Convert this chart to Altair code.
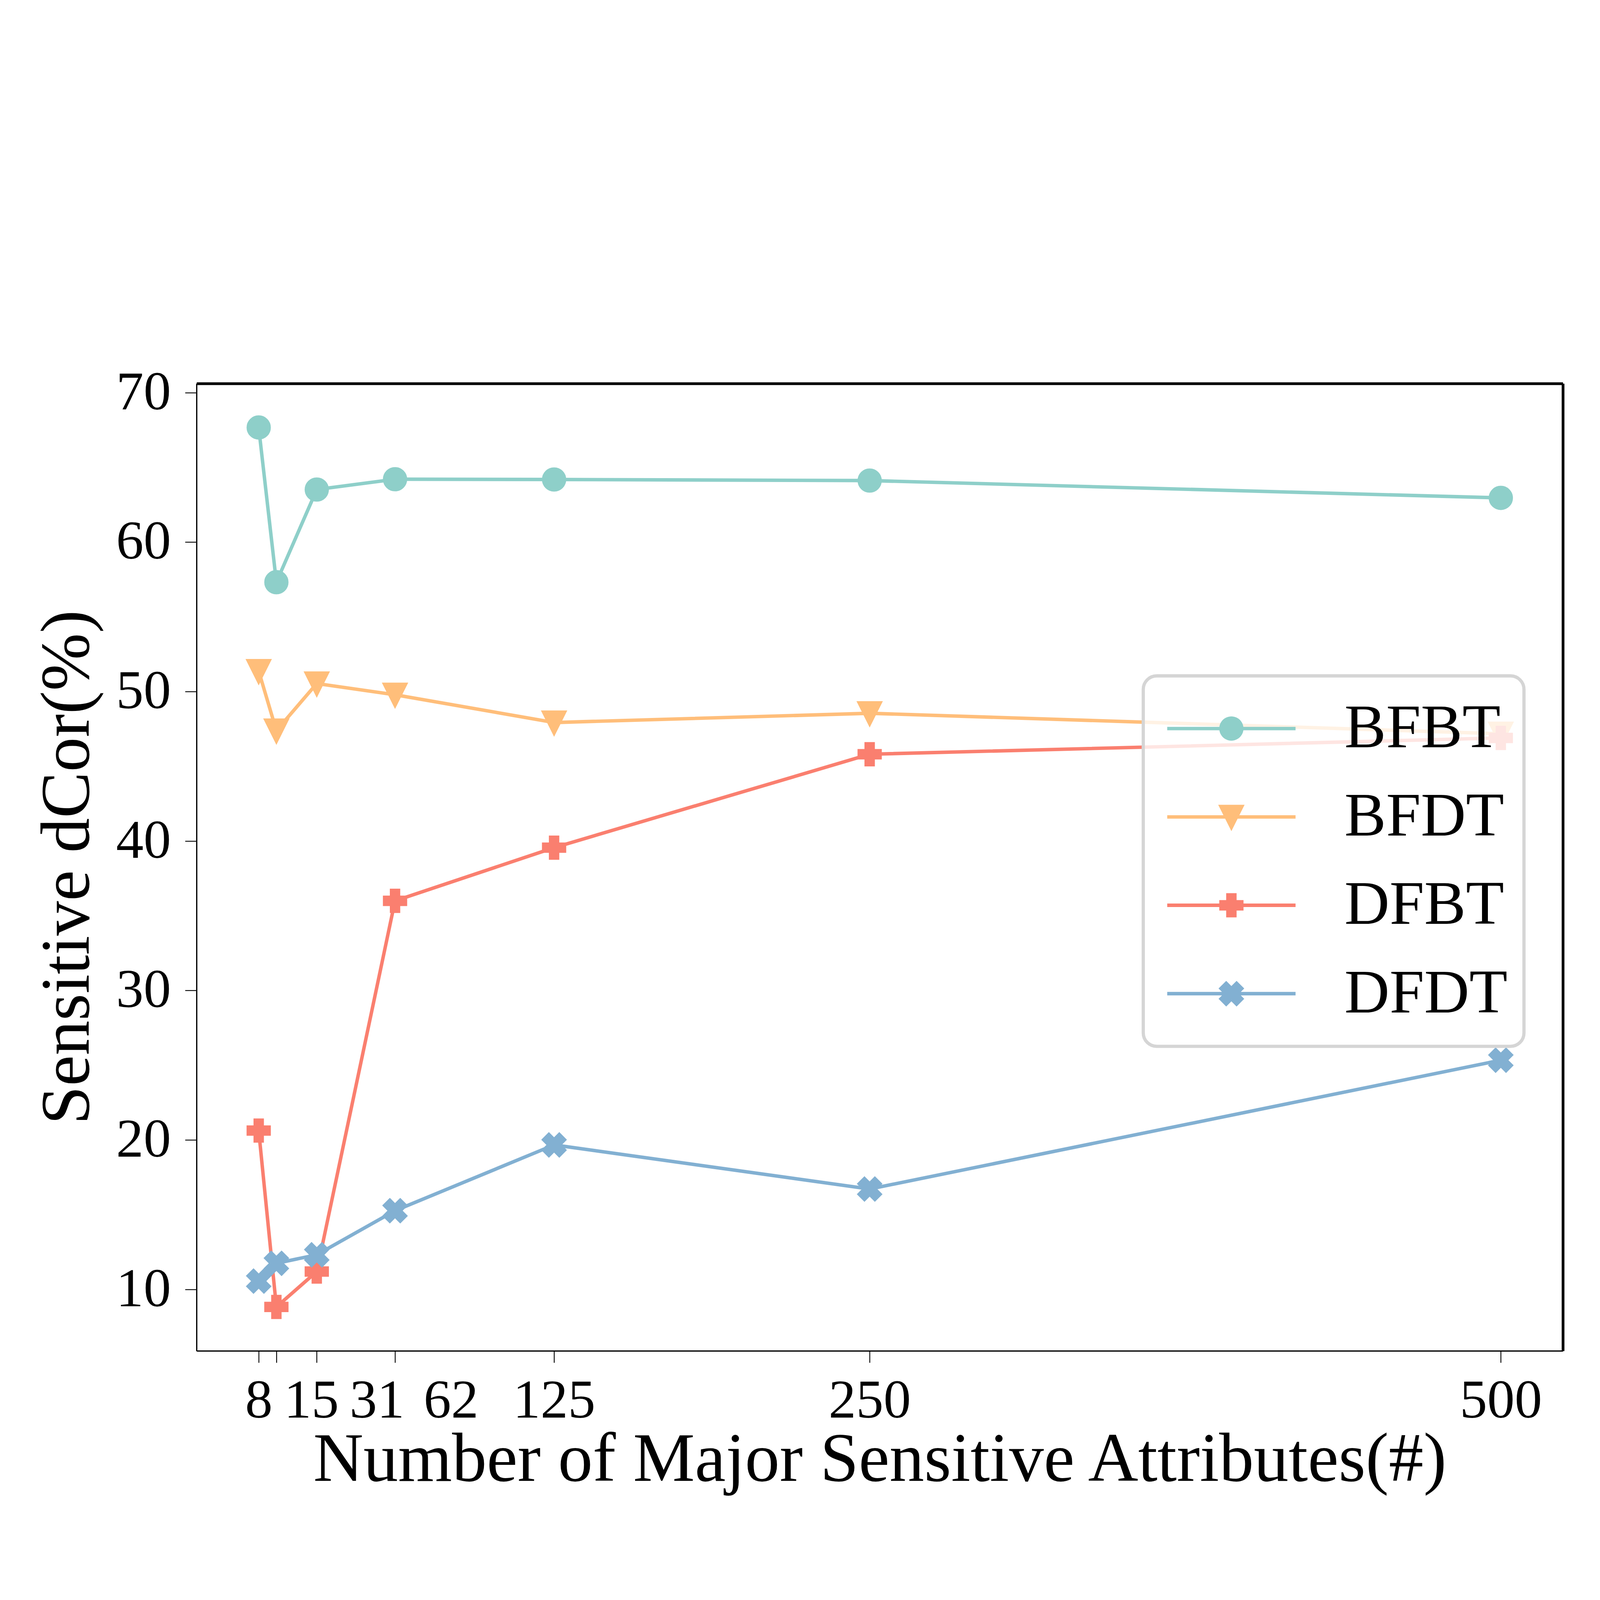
import math
import altair as alt
import pandas as pd

# ---- data ----
x_vals = [8, 15, 31, 62, 125, 250, 500]
series_names = ["BFBT", "BFDT", "DFBT", "DFDT"]
bfbt = [67.67, 57.32, 63.52, 64.21, 64.19, 64.12, 62.96]
bfdt = [51.37, 47.39, 50.54, 49.79, 47.93, 48.55, 47.18]
dfbt = [20.63, 8.83, 11.20, 36.00, 39.56, 45.81, 46.90]
dfdt = [10.56, 11.75, 12.32, 15.27, 19.67, 16.72, 25.34]
colors = ["#8ECFC9", "#FFBE7A", "#FA7F6F", "#82B0D2"]
x_ticks = [8, 15, 31, 62, 125, 250, 500]
y_ticks = [10, 20, 30, 40, 50, 60, 70]
x_title = "Number of Major Sensitive Attributes(#)"
y_title = "Sensitive dCor(%)"

rows = []
for name, vals in zip(series_names, [bfbt, bfdt, dfbt, dfdt]):
    for xv, yv in zip(x_vals, vals):
        rows.append({"x": xv, "y": yv, "series": name})
df = pd.DataFrame(rows)

# matplotlib-like 5% axis margins
all_y = bfbt + bfdt + dfbt + dfdt
ry = max(all_y) - min(all_y)
y_dom = [min(all_y) - 0.05 * ry, max(all_y) + 0.05 * ry]
rx = max(x_vals) - min(x_vals)
x_dom = [min(x_vals) - 0.05 * rx, max(x_vals) + 0.05 * rx]

FONT = "Liberation Serif"
LW = 13.9          # line / marker edge width (px)
MR = 41.65         # marker half size (px)
LEG_W = 514.0      # legend handle length (px)

# ---- marker outlines (matplotlib o, v, P, X), unit box [-1,1] ----
t = 1.0 / 3.0
tri_pts = [(0, 1), (-1, -1), (1, -1)]
plus_pts = [(-t, -1), (t, -1), (t, -t), (1, -t), (1, t), (t, t), (t, 1), (-t, 1), (-t, t), (-1, t), (-1, -t), (-t, -t)]
x_pts = [(-0.5, -1), (0, -0.5), (0.5, -1), (1, -0.5), (0.5, 0), (1, 0.5), (0.5, 1), (0, 0.5), (-0.5, 1), (-1, 0.5), (-0.5, 0), (-1, -0.5)]


def signed_area(pts):
    s = 0.0
    for i in range(len(pts)):
        x1, y1 = pts[i]
        x2, y2 = pts[(i + 1) % len(pts)]
        s += x1 * y2 - x2 * y1
    return s


def orient(pts):
    return pts if signed_area(pts) > 0 else list(reversed(pts))


def offset_poly(pts, d):
    pts = orient(pts)
    n = len(pts)
    out = []
    for i in range(n):
        p0, p1, p2 = pts[i - 1], pts[i], pts[(i + 1) % n]
        ux, uy = p1[0] - p0[0], p1[1] - p0[1]
        lu = math.hypot(ux, uy); ux, uy = ux / lu, uy / lu
        vx, vy = p2[0] - p1[0], p2[1] - p1[1]
        lv = math.hypot(vx, vy); vx, vy = vx / lv, vy / lv
        n1 = (uy, -ux); n2 = (vy, -vx)
        f = d / (1 + n1[0] * n2[0] + n1[1] * n2[1])
        out.append((p1[0] + (n1[0] + n2[0]) * f, p1[1] + (n1[1] + n2[1]) * f))
    return out


def poly(pts, k=1.0):
    pts = orient(pts)
    return "M" + "L".join(f"{px*k:.4f},{py*k:.4f}" for px, py in pts) + "Z"


def circ(r=1.0):
    return f"M{r:.4f},0A{r:.4f},{r:.4f},0,1,1,{-r:.4f},0A{r:.4f},{r:.4f},0,1,1,{r:.4f},0Z"


marker_paths = [circ(), poly(tri_pts), poly(plus_pts), poly(x_pts)]
MSIZE = (2 * MR) ** 2

# legend handles: a line through an edge-thickened marker, as one filled path
U = LEG_W / 2.0
hw = (LW / 2) / U
line_path = f"M-1,{-hw:.4f}L1,{-hw:.4f}L1,{hw:.4f}L-1,{hw:.4f}Z"
legend_paths = [line_path + circ((MR + LW / 2) / U)]
for pts in [tri_pts, plus_pts, x_pts]:
    px_pts = [(a * MR, b * MR) for a, b in pts]
    big = offset_poly(px_pts, LW / 2)
    legend_paths.append(line_path + poly(big, 1.0 / U))

xs = alt.Scale(domain=x_dom, nice=False, zero=False)
ys = alt.Scale(domain=y_dom, nice=False, zero=False)
cs = alt.Scale(domain=series_names, range=colors)

label_shift = {"condition": [
    {"test": "datum.value == 15", "value": 140},
    {"test": "datum.value == 31", "value": 241},
    {"test": "datum.value == 62", "value": 224},
], "value": 0}

x_axis = alt.Axis(values=x_ticks, grid=False, labelFont=FONT, labelFontSize=220, labelColor="black",
                  labelLimit=3000, tickSize=47, tickWidth=3.5, tickColor="black", domainWidth=5,
                  domainColor="black", labelPadding=45, labelOverlap=False, labelFlush=False,
                  labelOffset=label_shift, title=x_title, titleFont=FONT, titleFontSize=278,
                  titleFontWeight="normal", titleColor="black", titlePadding=100, titleLimit=8000)
y_axis = alt.Axis(values=y_ticks, grid=False, labelFont=FONT, labelFontSize=220, labelColor="black",
                  labelLimit=3000, tickSize=46, tickWidth=3.5, tickColor="black", domainWidth=5,
                  domainColor="black", labelPadding=57, title=y_title, titleFont=FONT,
                  titleFontSize=278, titleFontWeight="normal", titleColor="black", titlePadding=175,
                  titleLimit=8000)
top_axis = alt.Axis(orient="top", labels=False, ticks=False, grid=False, title=None,
                    domainWidth=11, domainColor="black")
right_axis = alt.Axis(orient="right", labels=False, ticks=False, grid=False, title=None,
                      domainWidth=11, domainColor="black")

base = alt.Chart(df)

leg = alt.Legend(orient="none", legendX=3792, legendY=1171, title=None,
                 labelFont=FONT, labelFontSize=250, labelColor="black", labelLimit=3000,
                 symbolSize=LEG_W ** 2, symbolStrokeWidth=0, symbolOffset=30, symbolOpacity=1,
                 labelOffset=196, clipHeight=290, rowPadding=64, padding=66,
                 cornerRadius=54, strokeColor="#d5d5d5", fillColor="rgba(255,255,255,0.8)")

# carries the legend only (no rows survive the filter)
legend_layer = base.transform_filter("datum.x < -1000").mark_point(
    filled=True, opacity=1, size=LEG_W ** 2).encode(
    x=alt.X("x:Q", scale=xs, axis=None),
    y=alt.Y("y:Q", scale=ys, axis=None),
    color=alt.Color("series:N", scale=cs, legend=leg),
    shape=alt.Shape("series:N", scale=alt.Scale(domain=series_names, range=legend_paths), legend=leg),
)

lines = base.mark_line(strokeWidth=LW, strokeCap="square", strokeJoin="round").encode(
    x=alt.X("x:Q", scale=xs, axis=x_axis),
    y=alt.Y("y:Q", scale=ys, axis=y_axis),
    color=alt.Color("series:N", scale=cs, legend=None),
    order=alt.Order("x:Q"),
)

point_layers = []
for i, name in enumerate(series_names):
    first = i == 0
    point_layers.append(
        base.transform_filter(alt.datum.series == name).mark_point(
            filled=True, opacity=1, shape=marker_paths[i], size=MSIZE,
            stroke=colors[i], strokeWidth=LW, strokeJoin="miter",
        ).encode(
            x=alt.X("x:Q", scale=xs, axis=top_axis if first else None),
            y=alt.Y("y:Q", scale=ys, axis=right_axis if first else None),
            color=alt.Color("series:N", scale=cs, legend=None),
        )
    )

chart = alt.layer(legend_layer, lines, *point_layers).resolve_axis(
    x="independent", y="independent"
).properties(
    width=6384, height=4784,
    autosize=alt.AutoSizeParams(type="fit", contains="padding"),
    padding={"left": 120, "top": 108, "right": 136, "bottom": 160},
    background="white",
).configure_view(stroke=None).configure_legend(strokeWidth=13)

chart.save("out.html", embed_options={"renderer": "svg", "actions": False})
